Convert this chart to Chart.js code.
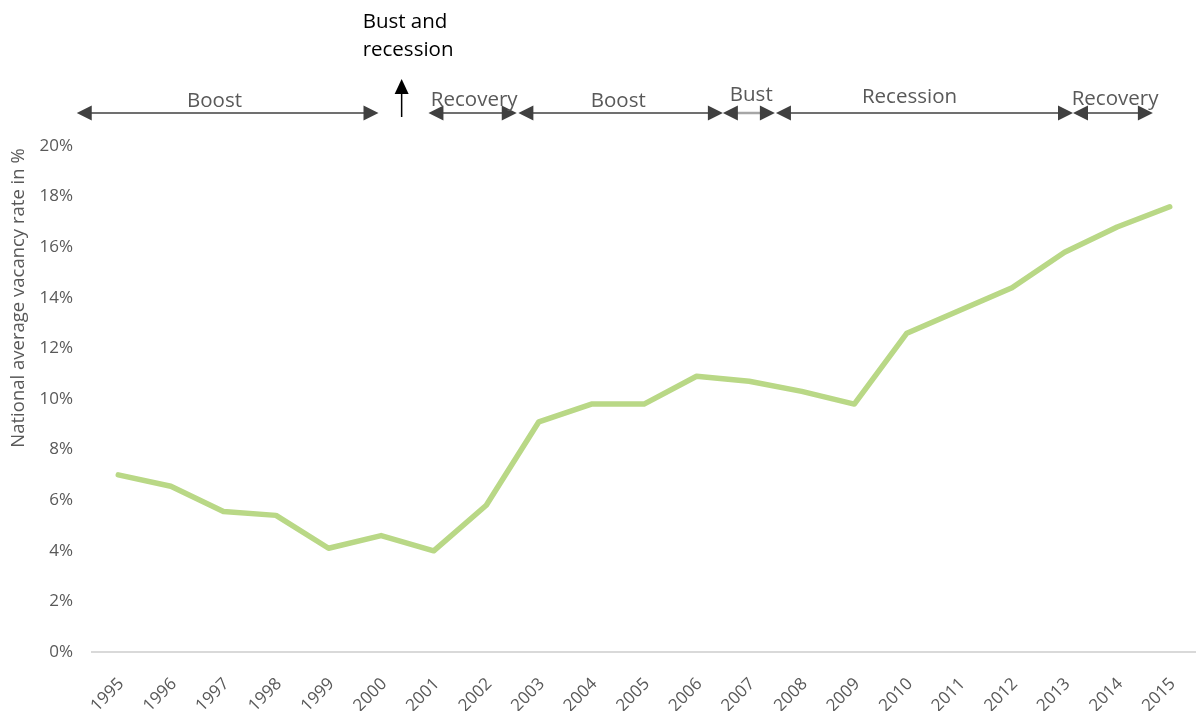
<!DOCTYPE html>
<html>
<head>
<meta charset="utf-8">
<script src="https://cdn.jsdelivr.net/npm/chart.js@4.4.1/dist/chart.umd.min.js"></script>
<style>
  html, body { margin: 0; padding: 0; background: #ffffff; }
  #wrap { width: 1196px; height: 711px; position: relative; }
</style>
</head>
<body>
<div id="wrap"><canvas id="chart" width="1196" height="711"></canvas></div>
<script>
// Years on the horizontal axis
const years = ['1995','1996','1997','1998','1999','2000','2001','2002','2003','2004',
               '2005','2006','2007','2008','2009','2010','2011','2012','2013','2014','2015'];

// National average vacancy rate, percent
const vacancyRate = [7.0, 6.55, 5.55, 5.4, 4.1, 4.6, 4.0, 5.8, 9.1, 9.8,
                     9.8, 10.9, 10.7, 10.3, 9.8, 12.6, 13.5, 14.4, 15.8, 16.8, 17.6];

// Market phases shown as double arrows above the plot (in years)
const phaseNames   = ['Boost', 'Recovery', 'Boost', 'Bust', 'Recession', 'Recovery'];
const phaseStarts  = [1994.21, 2000.90, 2002.61, 2006.50, 2007.51, 2013.16];
const phaseEnds    = [1999.95, 2002.58, 2006.50, 2007.49, 2013.16, 2014.68];
const phaseLabelAt = [1996.83, 2001.77, 2004.51, 2007.04, 2010.05, 2013.96];

// Single event marker
const eventYear  = 2000.39;
const eventLines = ['Bust and', 'recession'];

const FONT = '"Open Sans", "DejaVu Sans", sans-serif';
const GREY = '#595959';

function yearToPixel(xs, yr) {
  const p0 = xs.getPixelForValue(0);
  const step = xs.getPixelForValue(1) - p0;
  return p0 + (yr - 1995) * step;
}

function arrowHead(ctx, tipX, tipY, dir, len, half, color) {
  ctx.fillStyle = color;
  ctx.beginPath();
  ctx.moveTo(tipX, tipY);
  ctx.lineTo(tipX - dir * len, tipY - half);
  ctx.lineTo(tipX - dir * len, tipY + half);
  ctx.closePath();
  ctx.fill();
}

const phasePlugin = {
  id: 'phases',
  afterDraw(chart) {
    const ctx = chart.ctx;
    const xs = chart.scales.x;
    const top = chart.chartArea.top;
    const arrowY = top - 33;
    const textYs = [101.5, 100, 101.5, 95, 97, 99];
    ctx.save();
    phaseNames.forEach((name, i) => {
      const x1 = yearToPixel(xs, phaseStarts[i]);
      const x2 = yearToPixel(xs, phaseEnds[i]);
      const isBust = name === 'Bust';
      ctx.strokeStyle = isBust ? '#a6a6a6' : '#404040';
      ctx.lineWidth = isBust ? 2.5 : 1.5;
      ctx.beginPath();
      ctx.moveTo(x1 + 10, arrowY);
      ctx.lineTo(x2 - 10, arrowY);
      ctx.stroke();
      arrowHead(ctx, x1, arrowY, -1, 15, 7.5, '#404040');
      arrowHead(ctx, x2, arrowY, 1, 15, 7.5, '#404040');
      ctx.fillStyle = GREY;
      ctx.font = '20.5px ' + FONT;
      ctx.textAlign = 'center';
      ctx.textBaseline = 'middle';
      ctx.fillText(name, yearToPixel(xs, phaseLabelAt[i]), textYs[i]);
    });

    // upward event arrow
    const ex = yearToPixel(xs, eventYear);
    ctx.strokeStyle = '#000000';
    ctx.lineWidth = 1.5;
    ctx.beginPath();
    ctx.moveTo(ex, top - 29);
    ctx.lineTo(ex, top - 56);
    ctx.stroke();
    ctx.fillStyle = '#000000';
    ctx.beginPath();
    ctx.moveTo(ex, top - 67);
    ctx.lineTo(ex - 7, top - 52);
    ctx.lineTo(ex + 7, top - 52);
    ctx.closePath();
    ctx.fill();

    ctx.font = '20.5px ' + FONT;
    ctx.textAlign = 'left';
    ctx.textBaseline = 'middle';
    ctx.fillText(eventLines[0], ex - 39, 22);
    ctx.fillText(eventLines[1], ex - 39, 50);

    // vertical axis title
    ctx.translate(19, 298);
    ctx.rotate(-Math.PI / 2);
    ctx.fillStyle = GREY;
    ctx.font = '18.5px ' + FONT;
    ctx.textAlign = 'center';
    ctx.textBaseline = 'middle';
    ctx.fillText('National average vacancy rate in %', 0, 0);
    ctx.restore();
  }
};

new Chart(document.getElementById('chart'), {
  type: 'line',
  data: {
    labels: years,
    datasets: [{
      data: vacancyRate,
      borderColor: '#b9d886',
      borderWidth: 5.5,
      borderCapStyle: 'round',
      borderJoinStyle: 'round',
      pointRadius: 0,
      tension: 0,
      fill: false
    }]
  },
  options: {
    responsive: false,
    animation: false,
    devicePixelRatio: 1,
    layout: { padding: { top: 146, right: 0, left: 0, bottom: 0 } },
    plugins: { legend: { display: false }, tooltip: { enabled: false } },
    scales: {
      x: {
        offset: true,
        grid: { display: false, drawTicks: false },
        border: { display: true, color: '#d9d9d9', width: 2 },
        ticks: {
          minRotation: 45, maxRotation: 45, padding: 22, labelOffset: 3,
          color: GREY, font: { family: FONT, size: 17 }
        },
        afterFit(s) {
          s.height = 711 - 652;
          s.paddingLeft = 0;
          s.paddingRight = 0;
        }
      },
      y: {
        min: 0, max: 20,
        grid: { display: false, drawTicks: false },
        border: { display: false },
        ticks: {
          stepSize: 2, padding: 19,
          color: GREY, font: { family: FONT, size: 17 },
          callback: v => v + '%'
        },
        afterFit(s) { s.width = 92; }
      }
    }
  },
  plugins: [phasePlugin]
});
</script>
</body>
</html>
